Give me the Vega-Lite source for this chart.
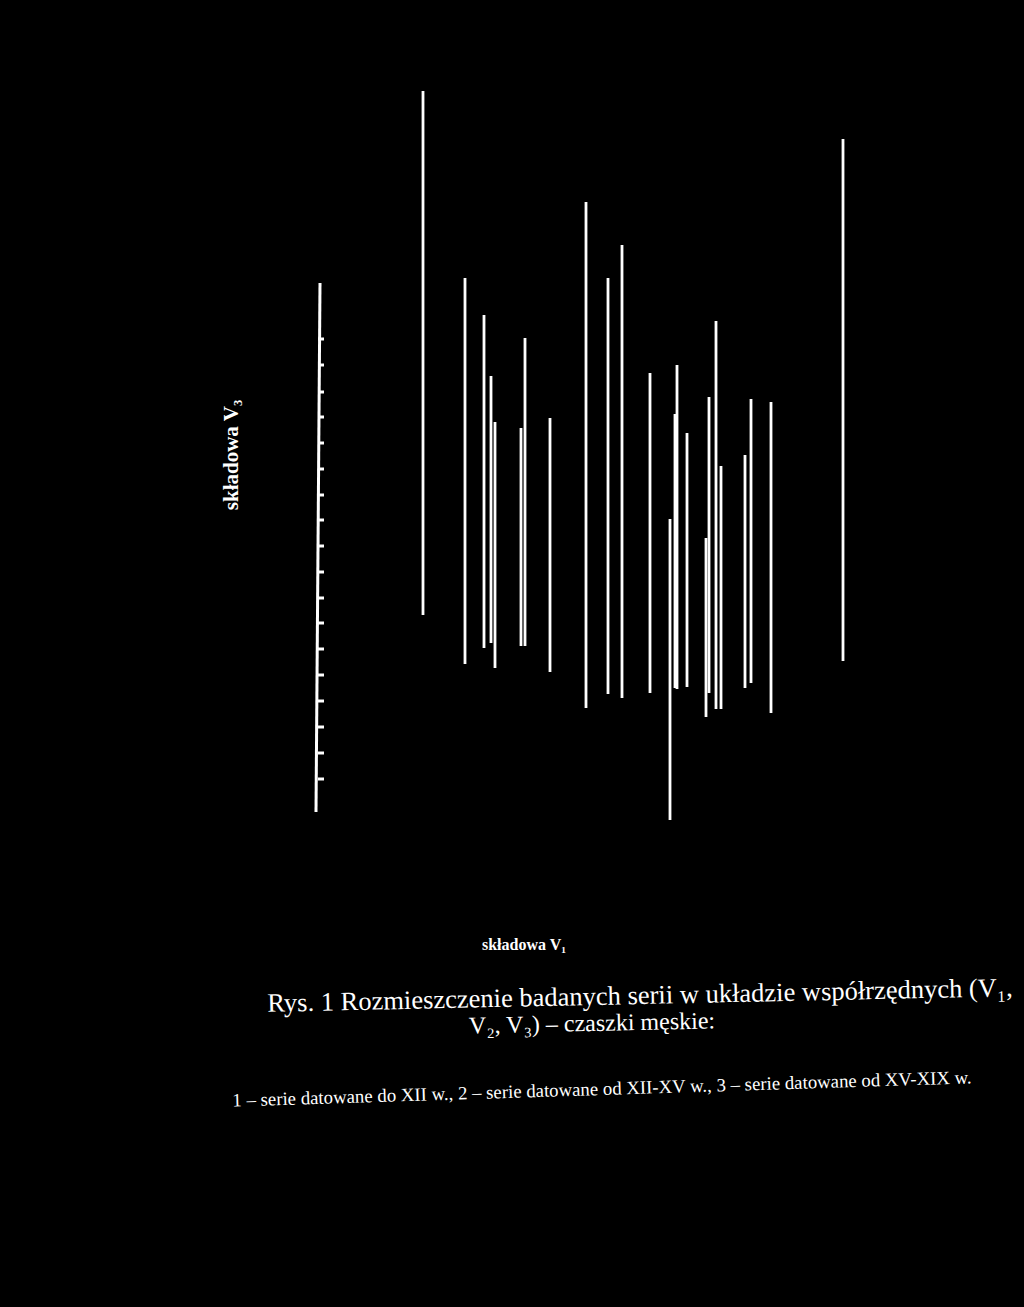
{
  "$schema": "https://vega.github.io/schema/vega-lite/v6.json",
  "width": 1024,
  "height": 1307,
  "autosize": {"type": "fit", "contains": "padding"},
  "padding": 0,
  "background": "#000000",
  "config": {"view": {"stroke": null}},
  "datasets": {
    "series": [
      {"x": 423, "top": 91, "bottom": 615},
      {"x": 465, "top": 278, "bottom": 664},
      {"x": 484, "top": 315, "bottom": 648},
      {"x": 491, "top": 376, "bottom": 643},
      {"x": 495, "top": 422, "bottom": 668},
      {"x": 525, "top": 338, "bottom": 646},
      {"x": 521, "top": 428, "bottom": 646},
      {"x": 550, "top": 418, "bottom": 672},
      {"x": 586, "top": 202, "bottom": 708},
      {"x": 608, "top": 278, "bottom": 694},
      {"x": 622, "top": 245, "bottom": 698},
      {"x": 650, "top": 373, "bottom": 693},
      {"x": 670, "top": 519, "bottom": 820},
      {"x": 677, "top": 365, "bottom": 689},
      {"x": 675, "top": 414, "bottom": 688},
      {"x": 687, "top": 433, "bottom": 687},
      {"x": 709, "top": 397, "bottom": 693},
      {"x": 706, "top": 538, "bottom": 717},
      {"x": 716, "top": 321, "bottom": 709},
      {"x": 721, "top": 466, "bottom": 709},
      {"x": 745, "top": 455, "bottom": 688},
      {"x": 751, "top": 399, "bottom": 683},
      {"x": 771, "top": 402, "bottom": 713},
      {"x": 843, "top": 139, "bottom": 661}
    ],
    "axisline": [
      {"x": 320, "x2": 316, "top": 283, "bottom": 812}
    ],
    "ticks": [
      {"y": 339}, {"y": 365}, {"y": 392}, {"y": 417}, {"y": 443}, {"y": 469},
      {"y": 495}, {"y": 520}, {"y": 546}, {"y": 572}, {"y": 598}, {"y": 623},
      {"y": 649}, {"y": 675}, {"y": 701}, {"y": 727}, {"y": 753}, {"y": 779}
    ],
    "labels": [
      {"label": "składowa V₃", "kind": "yaxis"},
      {"label": "składowa V₁", "kind": "xaxis"},
      {"label": "Rys. 1  Rozmieszczenie badanych serii w układzie współrzędnych (V₁,", "kind": "cap1"},
      {"label": "V₂, V₃) – czaszki męskie:", "kind": "cap2"},
      {"label": "1 – serie datowane do XII w., 2 – serie datowane od XII-XV w., 3 – serie datowane od XV-XIX w.", "kind": "cap3"}
    ]
  },
  "layer": [
    {
      "data": {"name": "series"},
      "mark": {"type": "rule", "color": "#ffffff", "strokeWidth": 2.8},
      "encoding": {
        "x": {"field": "x", "type": "quantitative", "axis": null, "scale": {"domain": [0, 1024], "nice": false, "zero": false}},
        "y": {"field": "top", "type": "quantitative", "axis": null, "scale": {"domain": [0, 1307], "nice": false, "zero": false, "reverse": true}},
        "y2": {"field": "bottom"}
      }
    },
    {
      "data": {"name": "axisline"},
      "mark": {"type": "rule", "color": "#ffffff", "strokeWidth": 3},
      "encoding": {
        "x": {"field": "x", "type": "quantitative"},
        "x2": {"field": "x2"},
        "y": {"field": "top", "type": "quantitative"},
        "y2": {"field": "bottom"}
      }
    },
    {
      "data": {"name": "ticks"},
      "mark": {"type": "rule", "color": "#ffffff", "strokeWidth": 3},
      "encoding": {
        "x": {"datum": 318, "type": "quantitative"},
        "x2": {"datum": 324},
        "y": {"field": "y", "type": "quantitative"}
      }
    },
    {
      "data": {"name": "labels"},
      "transform": [{"filter": "datum.kind == 'yaxis'"}],
      "mark": {"type": "text", "color": "#ffffff", "font": "Liberation Serif", "fontWeight": "bold", "fontSize": 21, "angle": 270, "align": "center", "baseline": "middle"},
      "encoding": {
        "x": {"datum": 232, "type": "quantitative"},
        "y": {"datum": 455, "type": "quantitative"},
        "text": {"field": "label"}
      }
    },
    {
      "data": {"name": "labels"},
      "transform": [{"filter": "datum.kind == 'xaxis'"}],
      "mark": {"type": "text", "color": "#ffffff", "font": "Liberation Serif", "fontWeight": "bold", "fontSize": 16, "align": "center", "baseline": "middle"},
      "encoding": {
        "x": {"datum": 524, "type": "quantitative"},
        "y": {"datum": 945, "type": "quantitative"},
        "text": {"field": "label"}
      }
    },
    {
      "data": {"name": "labels"},
      "transform": [{"filter": "datum.kind == 'cap1'"}],
      "mark": {"type": "text", "color": "#ffffff", "font": "Liberation Serif", "fontSize": 26.5, "align": "center", "baseline": "middle", "angle": -1.2},
      "encoding": {
        "x": {"datum": 640, "type": "quantitative"},
        "y": {"datum": 996, "type": "quantitative"},
        "text": {"field": "label"}
      }
    },
    {
      "data": {"name": "labels"},
      "transform": [{"filter": "datum.kind == 'cap2'"}],
      "mark": {"type": "text", "color": "#ffffff", "font": "Liberation Serif", "fontSize": 24, "align": "center", "baseline": "middle", "angle": -1.2},
      "encoding": {
        "x": {"datum": 592, "type": "quantitative"},
        "y": {"datum": 1024, "type": "quantitative"},
        "text": {"field": "label"}
      }
    },
    {
      "data": {"name": "labels"},
      "transform": [{"filter": "datum.kind == 'cap3'"}],
      "mark": {"type": "text", "color": "#ffffff", "font": "Liberation Serif", "fontSize": 18.8, "align": "center", "baseline": "middle", "angle": -1.8},
      "encoding": {
        "x": {"datum": 602, "type": "quantitative"},
        "y": {"datum": 1089, "type": "quantitative"},
        "text": {"field": "label"}
      }
    }
  ]
}
